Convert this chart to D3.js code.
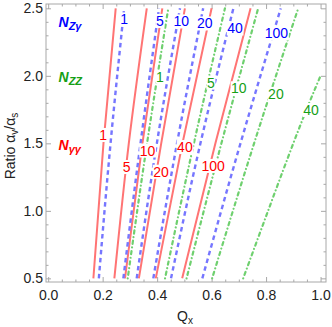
<!DOCTYPE html>
<html>
<head>
<meta charset="utf-8">
<script src="https://cdn.jsdelivr.net/npm/d3@7"></script>
<style>
body { margin: 0; background: #fff; }
text { font-family: "Liberation Sans", Arial, sans-serif; }
</style>
</head>
<body>
<div id="chart"></div>
<script>
// contour levels for each family
var levelsAA = [1, 5, 10, 20, 40, 100];
var levelsZA = [1, 5, 10, 20, 40, 100];
var levelsZZ = [1, 5, 10, 20, 40];

// ratio values where Q_x was read on every curve
var ratioPoints = [0.5, 1.5, 2.5];
// the last ZZ curve leaves the plot at Q_x = 1
var ratioPointsZZ40 = [0.5, 1.5, 2.0];

// Q_x read at the ratios above
var qAA = [[0.166, 0.203, 0.248], [0.243, 0.296, 0.362], [0.282, 0.346, 0.419],
           [0.333, 0.415, 0.502], [0.395, 0.493, 0.600], [0.492, 0.614, 0.743]];
var qZA = [[0.186, 0.229, 0.279], [0.276, 0.339, 0.407], [0.325, 0.399, 0.484],
           [0.386, 0.473, 0.569], [0.451, 0.559, 0.680], [0.566, 0.706, 0.854]];
var qZZ = [[0.292, 0.363, 0.441], [0.429, 0.535, 0.649], [0.508, 0.636, 0.771],
           [0.602, 0.756, 0.918], [0.716, 0.900, 1.000]];

// where the level numbers sit, as [Q_x, ratio]
var labelAA = [[0.202, 1.562], [0.288, 1.325], [0.365, 1.447], [0.414, 1.290], [0.502, 1.473], [0.606, 1.333]];
var labelZA = [[0.279, 2.418], [0.410, 2.407], [0.489, 2.403], [0.575, 2.388], [0.686, 2.351], [0.838, 2.314]];
var labelZZ = [[0.410, 1.994], [0.597, 1.950], [0.700, 1.908], [0.836, 1.866], [0.965, 1.747]];

var xTicks = [0, 0.2, 0.4, 0.6, 0.8, 1.0];
var yTicks = [0.5, 1.0, 1.5, 2.0, 2.5];

var chartW = 332, chartH = 327;
var plotL = 46, plotR = 326, plotT = 4, plotB = 282;

var x = d3.scaleLinear().domain([-0.008, 1.02]).range([plotL, plotR]);
var y = d3.scaleLinear().domain([0.473, 2.532]).range([plotB, plotT]);

var svg = d3.select('#chart')
            .append('svg')
            .attr('width', chartW)
            .attr('height', chartH);

svg.append('clipPath')
   .attr('id', 'plot-clip')
   .append('rect')
   .attr('x', plotL).attr('y', plotT)
   .attr('width', plotR - plotL).attr('height', plotB - plotT);

// minor tick values
var xMinor = d3.range(0, 1.0001, 0.05).filter(function(d){
  return Math.abs(d * 5 - Math.round(d * 5)) > 1e-6;
});
var yMinor = d3.range(0.5, 2.5001, 0.1).filter(function(d){
  return Math.abs(d * 2 - Math.round(d * 2)) > 1e-6;
});

function drawAxis(axis, tx, ty){
  var g = svg.append('g')
             .attr('transform', 'translate(' + tx + ',' + ty + ')')
             .call(axis);
  g.select('.domain').remove();
  g.selectAll('line').attr('stroke', '#a8a8a8');
  g.selectAll('text')
   .attr('fill', '#222')
   .style('font-size', '14px')
   .style('font-family', '"Liberation Sans", Arial, sans-serif');
  return g;
}

// bottom and top, major then minor
drawAxis(d3.axisBottom(x).tickValues(xTicks).tickSizeInner(-5).tickSizeOuter(0)
           .tickPadding(8).tickFormat(d3.format('.1f')), 0, plotB);
drawAxis(d3.axisBottom(x).tickValues(xMinor).tickSizeInner(-2.5).tickSizeOuter(0)
           .tickFormat(''), 0, plotB);
drawAxis(d3.axisTop(x).tickValues(xTicks).tickSizeInner(-5).tickSizeOuter(0)
           .tickFormat(''), 0, plotT);
drawAxis(d3.axisTop(x).tickValues(xMinor).tickSizeInner(-2.5).tickSizeOuter(0)
           .tickFormat(''), 0, plotT);

// left and right
drawAxis(d3.axisLeft(y).tickValues(yTicks).tickSizeInner(-5).tickSizeOuter(0)
           .tickPadding(3).tickFormat(d3.format('.1f')), plotL, 0);
drawAxis(d3.axisLeft(y).tickValues(yMinor).tickSizeInner(-2.5).tickSizeOuter(0)
           .tickFormat(''), plotL, 0);
drawAxis(d3.axisRight(y).tickValues(yTicks).tickSizeInner(-5).tickSizeOuter(0)
           .tickFormat(''), plotR, 0);
drawAxis(d3.axisRight(y).tickValues(yMinor).tickSizeInner(-2.5).tickSizeOuter(0)
           .tickFormat(''), plotR, 0);

// frame
svg.append('rect')
   .attr('x', plotL).attr('y', plotT)
   .attr('width', plotR - plotL).attr('height', plotB - plotT)
   .attr('fill', 'none')
   .attr('stroke', '#a8a8a8')
   .attr('stroke-width', 1);

var line = d3.line()
             .x(function(d){ return x(d.q); })
             .y(function(d){ return y(d.r); })
             .curve(d3.curveNatural);

function toPoints(qs, rs){
  return qs.map(function(q, i){ return {q: q, r: rs[i]}; });
}

var curves = svg.append('g').attr('clip-path', 'url(#plot-clip)');

// N_gamma gamma: solid red
curves.selectAll('path.aa')
   .data(qAA)
   .enter()
   .append('path')
   .attr('class', 'aa')
   .attr('d', function(d){ return line(toPoints(d, ratioPoints)); })
   .attr('fill', 'none')
   .attr('stroke', '#ff7474')
   .attr('stroke-width', 2);

// N_Z gamma: dashed blue
curves.selectAll('path.za')
   .data(qZA)
   .enter()
   .append('path')
   .attr('class', 'za')
   .attr('d', function(d){ return line(toPoints(d, ratioPoints)); })
   .attr('fill', 'none')
   .attr('stroke', '#7676ff')
   .attr('stroke-width', 2.4)
   .attr('stroke-dasharray', '4.5,3.5');

// N_ZZ: dot-dashed green
curves.selectAll('path.zz')
   .data(qZZ)
   .enter()
   .append('path')
   .attr('class', 'zz')
   .attr('d', function(d, i){
     return line(toPoints(d, i === 4 ? ratioPointsZZ40 : ratioPoints));
   })
   .attr('fill', 'none')
   .attr('stroke', '#6fd06f')
   .attr('stroke-width', 2.2)
   .attr('stroke-linecap', 'round')
   .attr('stroke-dasharray', '0.01,3.6,3.2,3.6');

// level numbers with a white patch behind
function addLabels(levels, spots, color){
  levels.forEach(function(lv, i){
    var g = svg.append('g');
    var t = g.append('text')
             .text(lv)
             .attr('x', x(spots[i][0]))
             .attr('y', y(spots[i][1]))
             .attr('dy', '0.36em')
             .attr('text-anchor', 'middle')
             .attr('fill', color)
             .style('font-size', '14px');
    var b = t.node().getBBox();
    g.insert('rect', 'text')
     .attr('x', b.x - 0.5).attr('y', b.y + 1)
     .attr('width', b.width + 1).attr('height', b.height - 2)
     .attr('fill', '#fff');
  });
}

addLabels(levelsAA, labelAA, '#ff0000');
addLabels(levelsZA, labelZA, '#0000ff');
addLabels(levelsZZ, labelZZ, '#16a016');

// family names
function legendName(sub, color, ty){
  var t = svg.append('text')
             .attr('x', 58.5)
             .attr('y', ty)
             .attr('fill', color)
             .style('font-weight', 'bold')
             .style('font-style', 'italic')
             .style('font-size', '14px');
  t.append('tspan').text('N');
  t.append('tspan').text(sub).attr('dy', 3).style('font-size', '11px');
}

legendName('Z\u03b3', '#0000ff', 26.5);
legendName('ZZ', '#16a016', 81.5);
legendName('\u03b3\u03b3', '#ff0000', 150);

// axis titles
var xt = svg.append('text')
            .attr('x', 185)
            .attr('y', 321)
            .attr('text-anchor', 'middle')
            .attr('fill', '#222')
            .style('font-size', '14px');
xt.append('tspan').text('Q');
xt.append('tspan').text('x').attr('dy', 3).style('font-size', '10px');

var yt = svg.append('text')
            .attr('transform', 'translate(15,146) rotate(-90)')
            .attr('text-anchor', 'middle')
            .attr('fill', '#222')
            .style('font-size', '14px');
yt.append('tspan').text('Ratio \u03b1');
yt.append('tspan').text('v').attr('dy', 3).style('font-size', '10px');
yt.append('tspan').text('/\u03b1').attr('dy', -3);
yt.append('tspan').text('s').attr('dy', 3).style('font-size', '10px');
</script>
</body>
</html>
